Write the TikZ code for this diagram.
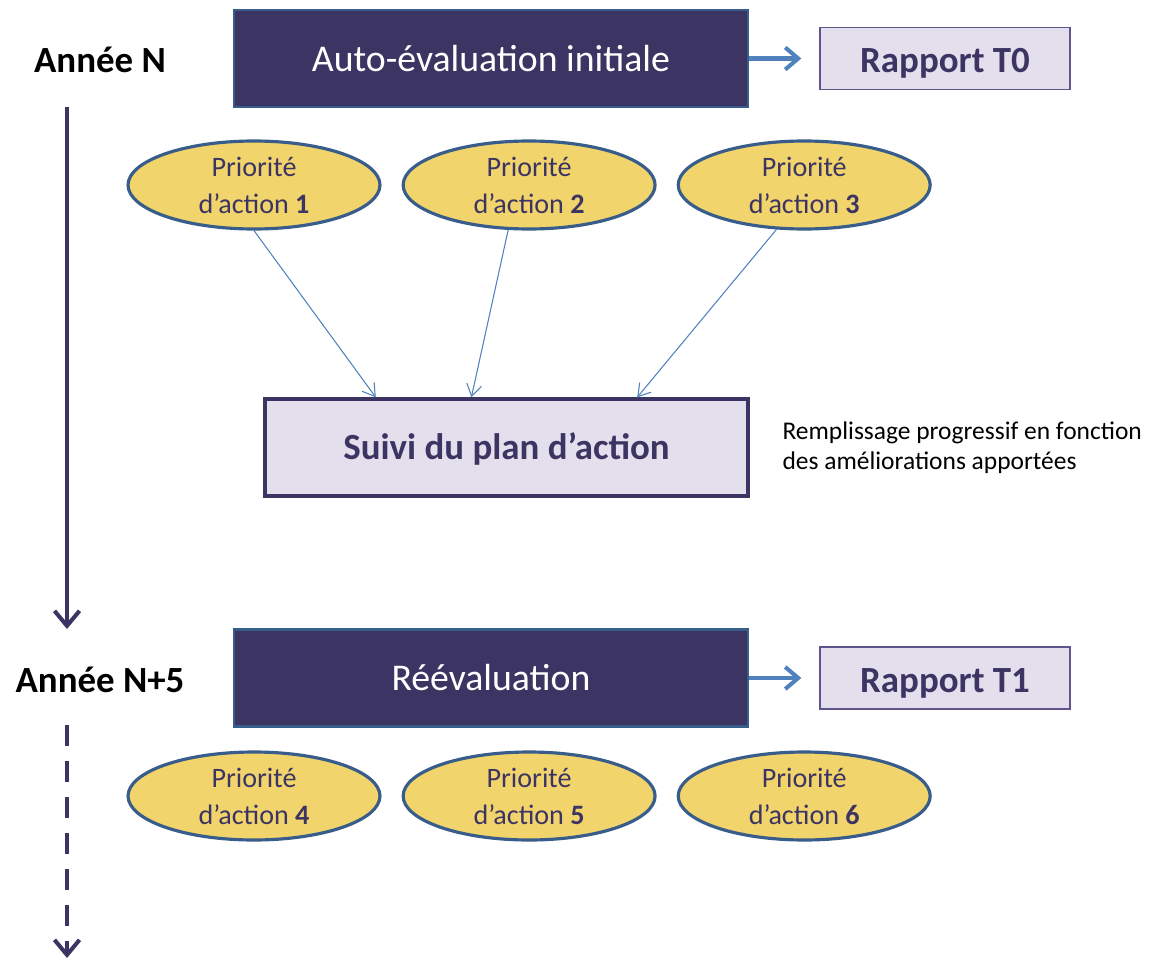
\documentclass[tikz,border=0pt]{standalone}
\usepackage{fontspec}
\setmainfont{Carlito}
\usetikzlibrary{arrows.meta,positioning,shapes.geometric}

\definecolor{violetfonce}{RGB}{60,52,98}
\definecolor{bordbleu}{RGB}{56,93,138}
\definecolor{lavande}{RGB}{228,223,236}
\definecolor{jaune}{RGB}{241,212,108}
\definecolor{fleche}{RGB}{79,129,189}
\definecolor{bordrapport}{RGB}{96,84,140}

\begin{document}
\begin{tikzpicture}[x=0.02cm,y=-0.02cm,semithick,
	                    node distance=1.4cm]
		  \tikzstyle{annee}=[font=\fontsize{21}{25}\selectfont\bfseries,text=black,inner sep=0pt]
		  \tikzstyle{etape}=[rectangle,fill=violetfonce,draw=bordbleu,line width=1.6pt,text=white,
		                     font=\fontsize{21.5}{25}\selectfont,minimum width=10.28cm,minimum height=1.94cm]
		  \tikzstyle{rapport}=[rectangle,fill=lavande,draw=bordrapport,line width=0.8pt,text=violetfonce,
		                       font=\fontsize{21}{25}\selectfont\bfseries,text height=18pt,text depth=2pt,
		                       minimum width=5cm,minimum height=1.24cm]
		  \tikzstyle{priorite}=[ellipse,fill=jaune,draw=bordbleu,line width=1.8pt,text=violetfonce,align=center,
		                        font=\fontsize{16}{21}\selectfont,minimum width=5.04cm,minimum height=1.76cm,inner sep=0pt]
		  \tikzstyle{suivi}=[rectangle,fill=lavande,draw=violetfonce,line width=1.9pt,text=violetfonce,
		                     font=\fontsize{21}{25}\selectfont\bfseries,text height=16pt,text depth=2pt,
		                     minimum width=9.66cm,minimum height=1.94cm]
		  \tikzstyle{temps}=[violetfonce,line width=2.3pt,-{Straight Barb[length=0.3cm,width=0.5cm]}]
		  \tikzstyle{liaison}=[fleche,line width=2.3pt,-{Straight Barb[length=0.26cm,width=0.44cm]},shorten >=0.36cm]
		  \tikzstyle{fin}=[fleche,line width=0.6pt,-{Straight Barb[length=0.24cm,width=0.3cm]}]

		  \useasboundingbox (0,0) rectangle (1149,960);

		  % annee N
		  \node[annee]    (anneeN)   at (100,60)   {Année N};
		  \node[etape]    (autoeval) at (491,58.5) {Auto-évaluation initiale};
		  \node[rapport]  (rapT0)    [right=of autoeval] {Rapport T0};

		  \node[priorite] (prio1) at (254,185) {Priorité\\d’action \textbf{1}};
		  \node[priorite] (prio2) [right=0.4cm of prio1] {Priorité\\d’action \textbf{2}};
		  \node[priorite] (prio3) [right=0.4cm of prio2] {Priorité\\d’action \textbf{3}};

		  \node[suivi]    (suivi) at (506.5,447.5) {Suivi du plan d’action};
		  \node[align=left,inner sep=0pt,anchor=west,font=\fontsize{14.5}{17}\selectfont]
		        (remarque) at (782,448) {Remplissage progressif en fonction\\des améliorations apportées};

		  % annee N+5
		  \node[annee]    (anneeN5)  at (100,680)  {Année N+5};
		  \node[etape]    (reeval)   at (491,678)  {Réévaluation};
		  \node[rapport]  (rapT1)    [right=of reeval] {Rapport T1};

		  \node[priorite] (prio4) at (254,796) {Priorité\\d’action \textbf{4}};
		  \node[priorite] (prio5) [right=0.4cm of prio4] {Priorité\\d’action \textbf{5}};
		  \node[priorite] (prio6) [right=0.4cm of prio5] {Priorité\\d’action \textbf{6}};

		  \coordinate (t0) at (67,107);
		  \coordinate (t1) at (67,629);
		  \coordinate (t2) at (67,725);
		  \coordinate (t3) at (67,958);

		  \draw[temps] (t0) -- (t1);
		  \draw[temps,dash pattern=on 0.42cm off 0.3cm] (t2) -- (t3);

		  \draw[liaison] (autoeval) -- (rapT0);
		  \draw[liaison] (reeval) -- (rapT1);

		  \draw[fin] (prio1.south) -- (suivi.159);
		  \draw[fin] (prio2.-115) -- (suivi.125.4);
		  \draw[fin] (prio3.-122) -- (suivi.21.4);
		\end{tikzpicture}
\end{document}
